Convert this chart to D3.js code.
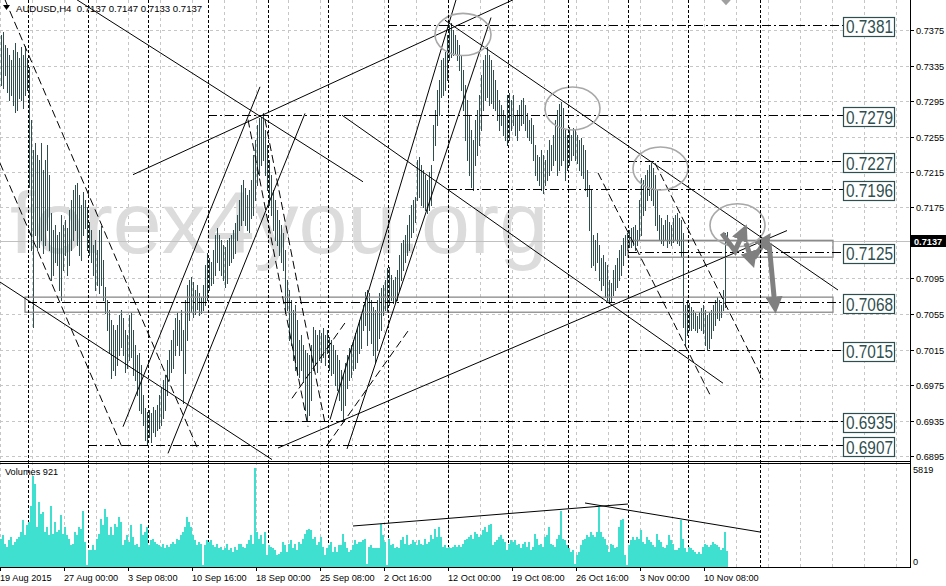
<!DOCTYPE html>
<html><head><meta charset="utf-8">
<script src="https://cdn.jsdelivr.net/npm/d3@7"></script>
<style>
html,body{margin:0;padding:0;background:#fff;overflow:hidden;}
svg{display:block;font-family:"Liberation Sans",Arial,sans-serif;}
</style></head><body>
<svg id="c" width="946" height="586"></svg>
<script>
// ---------------- DATA ----------------
const symbol = "AUDUSD,H4";
const lastOHLC = [0.7137, 0.7147, 0.7133, 0.7137];
const bidPrice = 0.7137;

const highs = [
0.7369,0.7373,0.7358,0.7355,0.7347,0.7341,0.7352,0.7360,0.7350,0.7343,
0.7356,0.7347,0.7357,0.7343,0.7333,0.7274,0.7240,0.7248,0.7234,0.7229,
0.7248,0.7217,0.7229,0.7245,0.7212,0.7169,0.7150,0.7155,0.7144,0.7147,
0.7167,0.7155,0.7161,0.7152,0.7172,0.7183,0.7195,0.7200,0.7203,0.7189,
0.7178,0.7192,0.7183,0.7176,0.7159,0.7150,0.7133,0.7138,0.7127,0.7150,
0.7154,0.7116,0.7085,0.7071,0.7059,0.7048,0.7043,0.7037,0.7043,0.7054,
0.7059,0.7051,0.7037,0.7031,0.7054,0.7056,0.7037,0.7020,0.7009,0.7011,
0.6998,0.6964,0.6949,0.6945,0.6947,0.6943,0.6950,0.6947,0.6952,0.6964,
0.6972,0.6981,0.6986,0.7003,0.7014,0.7026,0.7037,0.7051,0.7056,0.7048,
0.7059,0.7037,0.7071,0.7088,0.7093,0.7097,0.7091,0.7082,0.7088,0.7079,
0.7074,0.7088,0.7110,0.7124,0.7118,0.7114,0.7127,0.7144,0.7152,0.7144,
0.7138,0.7133,0.7130,0.7138,0.7141,0.7144,0.7150,0.7158,0.7167,0.7183,
0.7200,0.7206,0.7197,0.7189,0.7195,0.7206,0.7234,0.7251,0.7268,0.7276,
0.7277,0.7281,0.7262,0.7245,0.7229,0.7212,0.7195,0.7183,0.7172,0.7161,
0.7155,0.7146,0.7127,0.7093,0.7082,0.7071,0.7059,0.7065,0.7048,0.7026,
0.7031,0.7020,0.7014,0.7011,0.7009,0.7020,0.7040,0.7037,0.7031,0.7037,
0.7034,0.7039,0.7031,0.7037,0.7029,0.7026,0.7020,0.7014,0.7009,0.7003,
0.6992,0.6986,0.7000,0.7009,0.7017,0.7020,0.7026,0.7034,0.7039,0.7048,
0.7054,0.7065,0.7080,0.7082,0.7079,0.7071,0.7063,0.7059,0.7071,0.7079,
0.7084,0.7088,0.7093,0.7107,0.7108,0.7099,0.7093,0.7097,0.7105,0.7122,
0.7135,0.7138,0.7144,0.7155,0.7167,0.7178,0.7183,0.7187,0.7229,0.7232,
0.7223,0.7217,0.7212,0.7206,0.7215,0.7223,0.7268,0.7285,0.7307,0.7319,
0.7341,0.7343,0.7350,0.7369,0.7381,0.7383,0.7375,0.7369,0.7364,0.7358,
0.7347,0.7330,0.7313,0.7296,0.7279,0.7262,0.7251,0.7274,0.7285,0.7302,
0.7324,0.7341,0.7347,0.7356,0.7347,0.7341,0.7330,0.7319,0.7307,0.7296,
0.7291,0.7285,0.7279,0.7302,0.7304,0.7296,0.7302,0.7279,0.7285,0.7291,
0.7296,0.7298,0.7291,0.7281,0.7274,0.7276,0.7268,0.7245,0.7234,0.7232,
0.7240,0.7234,0.7229,0.7240,0.7251,0.7245,0.7257,0.7274,0.7285,0.7292,
0.7294,0.7287,0.7262,0.7257,0.7266,0.7257,0.7265,0.7262,0.7257,0.7251,
0.7253,0.7245,0.7240,0.7217,0.7200,0.7195,0.7144,0.7138,0.7146,0.7133,
0.7118,0.7122,0.7114,0.7110,0.7093,0.7090,0.7105,0.7110,0.7118,0.7127,
0.7133,0.7141,0.7144,0.7146,0.7150,0.7152,0.7153,0.7155,0.7150,0.7183,
0.7208,0.7206,0.7212,0.7217,0.7223,0.7225,0.7219,0.7212,0.7195,0.7167,
0.7163,0.7155,0.7161,0.7167,0.7159,0.7155,0.7163,0.7167,0.7169,0.7163,
0.7161,0.7146,0.7065,0.7071,0.7067,0.7063,0.7059,0.7056,0.7053,0.7057,
0.7062,0.7065,0.7059,0.7054,0.7057,0.7059,0.7065,0.7071,0.7074,0.7071,
0.7065,0.7082,0.7146,0.7147];

const lows = [
0.7313,0.7310,0.7324,0.7305,0.7296,0.7302,0.7291,0.7283,0.7285,0.7298,
0.7296,0.7287,0.7302,0.7307,0.7198,0.7127,0.7040,0.7144,0.7127,0.7130,
0.7138,0.7124,0.7133,0.7150,0.7127,0.7093,0.7099,0.7114,0.7110,0.7082,
0.7071,0.7105,0.7122,0.7099,0.7110,0.7127,0.7138,0.7150,0.7133,0.7122,
0.7116,0.7144,0.7152,0.7127,0.7122,0.7114,0.7099,0.7082,0.7088,0.7079,
0.7088,0.7071,0.7056,0.7037,0.7011,0.6983,0.6992,0.6986,0.6998,0.7009,
0.7018,0.7009,0.6990,0.6994,0.7003,0.7007,0.6986,0.6981,0.6964,0.6947,
0.6943,0.6930,0.6913,0.6907,0.6916,0.6911,0.6922,0.6917,0.6924,0.6927,
0.6930,0.6938,0.6947,0.6964,0.6981,0.6990,0.6994,0.7009,0.7020,0.7009,
0.7014,0.6955,0.6988,0.7026,0.7048,0.7057,0.7052,0.7055,0.7061,0.7054,
0.7056,0.7059,0.7065,0.7071,0.7082,0.7088,0.7090,0.7099,0.7114,0.7105,
0.7099,0.7093,0.7085,0.7090,0.7110,0.7114,0.7118,0.7124,0.7138,0.7150,
0.7155,0.7161,0.7155,0.7150,0.7147,0.7163,0.7167,0.7183,0.7200,0.7212,
0.7223,0.7229,0.7212,0.7195,0.7178,0.7167,0.7150,0.7138,0.7133,0.7122,
0.7114,0.7105,0.7056,0.7059,0.7026,0.7020,0.7003,0.6992,0.6986,0.6984,
0.6992,0.6978,0.6947,0.6936,0.6941,0.6958,0.6992,0.6998,0.6990,0.7003,
0.7001,0.7007,0.6998,0.7011,0.6992,0.6986,0.6988,0.6975,0.6969,0.6958,
0.6947,0.6936,0.6952,0.6972,0.6981,0.6984,0.6992,0.6994,0.7001,0.7011,
0.7017,0.7037,0.7043,0.7020,0.7037,0.7022,0.7009,0.7001,0.7014,0.7028,
0.7037,0.7054,0.7059,0.7057,0.7065,0.7071,0.7067,0.7068,0.7071,0.7082,
0.7093,0.7105,0.7114,0.7122,0.7127,0.7142,0.7147,0.7159,0.7183,0.7187,
0.7178,0.7176,0.7172,0.7169,0.7172,0.7178,0.7229,0.7245,0.7268,0.7279,
0.7300,0.7302,0.7307,0.7319,0.7341,0.7345,0.7347,0.7349,0.7341,0.7330,
0.7307,0.7285,0.7251,0.7229,0.7212,0.7198,0.7195,0.7223,0.7234,0.7245,
0.7262,0.7285,0.7296,0.7300,0.7291,0.7293,0.7287,0.7285,0.7274,0.7262,
0.7268,0.7257,0.7251,0.7245,0.7251,0.7262,0.7268,0.7257,0.7251,0.7262,
0.7268,0.7270,0.7262,0.7254,0.7251,0.7248,0.7229,0.7212,0.7206,0.7200,
0.7195,0.7191,0.7200,0.7206,0.7212,0.7217,0.7223,0.7229,0.7212,0.7217,
0.7223,0.7229,0.7206,0.7217,0.7223,0.7229,0.7234,0.7229,0.7225,0.7217,
0.7212,0.7208,0.7195,0.7188,0.7150,0.7108,0.7110,0.7105,0.7114,0.7093,
0.7082,0.7088,0.7074,0.7071,0.7067,0.7068,0.7076,0.7082,0.7085,0.7093,
0.7099,0.7110,0.7122,0.7127,0.7130,0.7131,0.7133,0.7127,0.7133,0.7138,
0.7144,0.7167,0.7172,0.7183,0.7189,0.7183,0.7178,0.7155,0.7150,0.7138,
0.7135,0.7133,0.7138,0.7131,0.7135,0.7133,0.7136,0.7138,0.7135,0.7133,
0.7120,0.7040,0.7020,0.7031,0.7037,0.7037,0.7039,0.7037,0.7035,0.7039,
0.7037,0.7034,0.7020,0.7014,0.7017,0.7028,0.7037,0.7043,0.7051,0.7048,
0.7052,0.7059,0.7063,0.7133];

const volumes = [
1670,1860,1380,1180,1570,1770,1280,1470,1670,1770,
2060,2740,1860,2450,2640,3610,5350,4870,2350,3800,
3120,3220,2060,2350,1860,3610,1960,2640,2060,2150,
3030,1960,2350,1860,1670,1280,1380,2060,1860,2350,
2250,3320,1470,110,990,990,1280,990,1670,1960,
2830,2450,3410,2930,1860,2350,1860,2540,2350,2930,
2640,1280,1570,1860,1470,2450,1770,1280,1380,1180,
2540,1860,2060,2350,1280,1570,1670,1470,1380,1280,
1180,1380,1090,1280,1180,1380,1470,1380,1670,1570,
1860,2060,2350,2930,2640,2350,1860,1570,1280,1470,
1380,130,1280,1570,1470,1570,1280,1180,1380,1090,
1180,990,1090,1380,990,1090,890,1180,990,1380,
1380,1180,1090,1380,1570,1860,1380,5819,2060,1670,
1860,1380,2060,700,1280,1180,1090,990,700,790,
890,1470,1280,890,1380,1570,1090,1380,990,1470,
1380,1670,1960,2150,2250,2150,1670,1770,1280,1470,
1770,1180,700,1090,1280,1470,890,1180,890,1280,
1280,1960,1470,1090,890,990,1280,1570,1380,1470,
1470,1570,1670,200,1180,1280,1090,1090,1090,1090,
2540,1860,1470,100,1670,1280,1380,1090,1180,1090,
1570,1770,1380,1860,1280,1380,1570,1470,1280,1570,
1380,1280,1670,1380,1470,1860,1670,2250,1770,2350,
1770,1180,1280,1090,1180,1090,1180,1280,1180,1280,
1180,1380,1570,1670,1770,1860,1670,2060,1960,1770,
1860,2150,2350,2060,2450,2540,1280,1470,1570,1770,
1860,1670,1470,990,1380,1570,1470,1570,1280,1380,
1090,1380,1470,1180,1470,990,1180,1960,1670,1280,
1380,1180,1770,1860,2350,1380,1280,1180,1670,1860,
3320,1670,1570,1280,1090,890,990,150,700,890,
1280,1570,1670,1860,1770,2060,1860,1770,2060,3510,
2060,1770,1670,1280,890,1380,1280,1090,1180,2350,
2740,2830,700,120,1280,1570,1770,1570,1770,1670,
2150,1470,1380,1770,1570,1470,1280,1180,1960,1570,
1470,1180,1090,1280,1860,1570,1380,990,990,1090,
2740,1670,1090,890,1180,1090,990,890,790,890,
790,1180,1380,1280,1180,1280,1470,1380,1280,1180,
990,1090,2060,921];

const volMax = 5819;
const priceTicks = [0.7375,0.7335,0.7295,0.7255,0.7215,0.7175,0.7095,0.7055,0.7015,0.6975,0.6935,0.6895];
const timeLabels = ["19 Aug 2015","27 Aug 00:00","3 Sep 08:00","10 Sep 16:00","18 Sep 00:00","25 Sep 08:00","2 Oct 16:00","12 Oct 00:00","19 Oct 08:00","26 Oct 16:00","3 Nov 00:00","10 Nov 08:00"];
const timeLabelBars = [0,32,64,96,128,160,192,224,256,288,320,352];
const weekSeparators = [13.5,43.5,73.5,103.5,133.5,163.5,193.5,223.5,253.5,283.5,313.5,343.5,379.5];

const levels      = [0.7381,0.7279,0.7227,0.7196,0.7125,0.7068,0.7015,0.6935,0.6907];
const levelStarts = [193.5, 103.5, 313.5, 223.5, 313.5, 13.5, 313.5, 133.5, 43.5];

// zones: [barFrom, barTo, priceTop, priceBottom]
const zones = [[12,416,0.7074,0.7057],[313.5,416,0.7138,0.7119]];

// trend lines: [bar1, price1, bar2, price2]
const solidLines = [
 [38,0.7409,181,0.7204],
 [66,0.7212,256,0.7409],
 [-0.5,0.7091,135.5,0.6891],
 [138.5,0.6904,393,0.7149],
 [170.5,0.7279,361,0.6977],
 [222,0.7386,418.5,0.7082],
 [61,0.6928,129.5,0.7311],
 [83.5,0.6898,152,0.7281],
 [164.5,0.6936,227.5,0.7409],
 [173,0.6903,245,0.7389]
];
const dashedLines = [
 [2,0.7409,98,0.6905],
 [-0.5,0.7225,60.5,0.6905],
 [123.5,0.7274,153.5,0.6928],
 [132,0.7274,162,0.6932],
 [163,0.6907,204.5,0.7039],
 [145.5,0.6960,172,0.7045],
 [298.5,0.7214,354.5,0.6964],
 [327,0.7225,381,0.6981]
];
// ellipses: [barCenter, priceCenter, barHalfWidth, priceHalfHeight]
const ellipses = [
 [231,0.7370,14,0.00237],
 [285.75,0.72865,13.75,0.00242],
 [329.75,0.7219,13.75,0.00242],
 [368.25,0.7155,13.75,0.00242]
];
// forecast arrows: lists of [bar, price]
const arrows = [
 [[360.5,0.7146],[367,0.7126],[371.5,0.7149]],
 [[372.5,0.7135],[375.5,0.7114]],
 [[376.5,0.7118],[383,0.7140]],
 [[384,0.7135],[387,0.7063]]
];
const topMarker = [[360,0.7409],[365,0.7409],[362.5,0.7403]];
// volume trend lines: [bar1, vol1, bar2, vol2]
const volLines = [[176,2410,313.5,3703],[292,3762,379.5,2057]];

// ---------------- LAYOUT ----------------
const svg = d3.select("#c");
const plotRight = 910, mainBottom = 461, volTop = 463, volBottom = 567;
const labelBar = 421;

const x = d3.scaleLinear().domain([0, 363]).range([1, 727]);
const y = d3.scaleLinear().domain([0.6895, 0.7375]).range([456, 30]);
const yv = d3.scaleLinear().domain([0, volMax]).range([volBottom, 468]);
const fmt = d3.format(".4f");
const slate = "#2F4F4F";
const crisp = v => Math.round(v) + 0.5;

const defs = svg.append("defs");
defs.append("clipPath").attr("id","mainClip").append("rect").attr("x",0).attr("y",0).attr("width",plotRight).attr("height",mainBottom);
defs.append("clipPath").attr("id","volClip").append("rect").attr("x",0).attr("y",volTop).attr("width",plotRight).attr("height",volBottom-volTop);
defs.append("marker").attr("id","ah").attr("markerUnits","userSpaceOnUse")
  .attr("viewBox","0 0 10 10").attr("refX",6).attr("refY",5)
  .attr("markerWidth",17).attr("markerHeight",17).attr("orient","auto")
  .append("path").attr("d","M0,0 L10,5 L0,10 z").attr("fill","#808080");

// grid
const grid = svg.append("g").attr("stroke","#c6c6c6").attr("stroke-dasharray","3,3").attr("shape-rendering","crispEdges");
d3.range(0, 29).forEach(k => {
  const px = crisp(x(16*k - 0.5));
  grid.append("line").attr("x1",px).attr("x2",px).attr("y1",0).attr("y2",volBottom);
});
priceTicks.forEach(t => {
  const py = crisp(y(t));
  grid.append("line").attr("x1",0).attr("x2",plotRight).attr("y1",py).attr("y2",py);
});

// main panel
const main = svg.append("g").attr("clip-path","url(#mainClip)");
main.append("text").attr("x",10).attr("y",253).attr("font-size",88).attr("fill","#dcdcdc").text("forex4you.org");

// week separators (both panels)
const sep = svg.append("g").attr("stroke","#000").attr("stroke-dasharray","3,2").attr("shape-rendering","crispEdges");
weekSeparators.forEach(b => {
  const px = crisp(x(b));
  sep.append("line").attr("x1",px).attr("x2",px).attr("y1",0).attr("y2",volBottom);
});

// bid line
main.append("line").attr("x1",0).attr("x2",plotRight).attr("y1",crisp(y(bidPrice))).attr("y2",crisp(y(bidPrice)))
  .attr("stroke","#c0c0c0").attr("shape-rendering","crispEdges");

// price bars
let d = "";
highs.forEach((h,i) => { d += `M${crisp(x(i))},${Math.round(y(h))}V${Math.round(y(lows[i]))+1}`; });
main.append("path").attr("d",d).attr("stroke",slate).attr("stroke-width",1).attr("fill","none").attr("shape-rendering","crispEdges");

// zones
zones.forEach(z => {
  main.append("rect").attr("x",x(z[0])).attr("y",y(z[2])).attr("width",x(z[1])-x(z[0])).attr("height",y(z[3])-y(z[2]))
    .attr("fill","none").attr("stroke","#8a8a8a").attr("stroke-width",1.3);
});

// level lines
levels.forEach((l,i) => {
  const py = crisp(y(l));
  main.append("line").attr("x1",x(levelStarts[i])).attr("x2",x(labelBar)).attr("y1",py).attr("y2",py)
    .attr("stroke","#000").attr("stroke-dasharray","9,3,2,3").attr("shape-rendering","crispEdges");
});

// trend lines
solidLines.forEach(l => {
  main.append("line").attr("x1",x(l[0])).attr("y1",y(l[1])).attr("x2",x(l[2])).attr("y2",y(l[3])).attr("stroke","#000").attr("stroke-width",1);
});
dashedLines.forEach(l => {
  main.append("line").attr("x1",x(l[0])).attr("y1",y(l[1])).attr("x2",x(l[2])).attr("y2",y(l[3])).attr("stroke","#000").attr("stroke-width",1).attr("stroke-dasharray","8,4");
});

// ellipses
ellipses.forEach(e => {
  main.append("ellipse").attr("cx",x(e[0])).attr("cy",y(e[1]))
    .attr("rx",x(e[0]+e[2])-x(e[0])).attr("ry",y(e[1]-e[3])-y(e[1]))
    .attr("fill","none").attr("stroke","#a8a8a8").attr("stroke-width",1.6);
});

// arrows
const lineGen = d3.line().x(p => x(p[0])).y(p => y(p[1]));
arrows.forEach(a => {
  main.append("path").attr("d",lineGen(a)).attr("fill","none").attr("stroke","#808080").attr("stroke-width",5)
    .attr("stroke-linejoin","miter").attr("marker-end","url(#ah)");
});
main.append("path").attr("d",lineGen(topMarker)+"Z").attr("fill","#a0a0a0");

// level labels
levels.forEach(l => {
  const py = y(l);
  svg.append("rect").attr("x",x(labelBar)+0.5).attr("y",Math.round(py-8)+0.5).attr("width",51).attr("height",19)
    .attr("fill","#fff").attr("stroke",slate).attr("stroke-width",1.2);
  svg.append("text").attr("x",x(labelBar)+3).attr("y",py+8.5).attr("font-size",17.5).attr("fill",slate)
    .attr("textLength",47).attr("lengthAdjust","spacingAndGlyphs").text(fmt(l));
});

// volume panel
const vol = svg.append("g").attr("clip-path","url(#volClip)");
vol.selectAll("rect").data(volumes).join("rect")
  .attr("x",(v,i) => x(i)-1).attr("width",2)
  .attr("y",v => yv(v)).attr("height",v => volBottom - yv(v))
  .attr("fill","#40E0D0").attr("shape-rendering","crispEdges");
volLines.forEach(l => {
  vol.append("line").attr("x1",x(l[0])).attr("y1",yv(l[1])).attr("x2",x(l[2])).attr("y2",yv(l[3])).attr("stroke","#000");
});

// frames
const fr = svg.append("g").attr("stroke","#000").attr("shape-rendering","crispEdges");
fr.append("line").attr("x1",0).attr("x2",plotRight+0.5).attr("y1",mainBottom+0.5).attr("y2",mainBottom+0.5);
fr.append("line").attr("x1",0).attr("x2",plotRight+0.5).attr("y1",volTop+0.5).attr("y2",volTop+0.5);
fr.append("line").attr("x1",0).attr("x2",plotRight+0.5).attr("y1",volBottom+0.5).attr("y2",volBottom+0.5);
fr.append("line").attr("x1",plotRight+0.5).attr("x2",plotRight+0.5).attr("y1",0).attr("y2",volBottom+0.5);

// price axis
const axisFont = 9.2;
priceTicks.forEach(t => {
  const py = crisp(y(t));
  fr.append("line").attr("x1",plotRight).attr("x2",plotRight+4).attr("y1",py).attr("y2",py);
  svg.append("text").attr("x",916).attr("y",py+3.3).attr("font-size",axisFont).attr("fill","#000").text(fmt(t));
});
// current price tag
const by = y(bidPrice);
svg.append("rect").attr("x",911).attr("y",Math.round(by-6)).attr("width",35).attr("height",12).attr("fill","#000");
svg.append("text").attr("x",914).attr("y",by+3.5).attr("font-size",axisFont).attr("font-weight","bold").attr("fill","#fff").text(fmt(bidPrice));

// volume axis
[[volMax, yv(volMax)+5],[0, yv(0)-2]].forEach(([v,py]) => {
  svg.append("text").attr("x",913).attr("y",py).attr("font-size",axisFont).attr("fill","#000").text(v);
});

// time axis
timeLabels.forEach((lab,i) => {
  const px = Math.round(x(timeLabelBars[i])) - 1;
  fr.append("line").attr("x1",px+0.5).attr("x2",px+0.5).attr("y1",volBottom).attr("y2",volBottom+4);
  svg.append("text").attr("x",px).attr("y",581).attr("font-size",axisFont).attr("fill","#000").text(lab);
});

// title
svg.append("path").attr("d","M3,5 L10,5 L6.5,10 Z").attr("fill","#000");
svg.append("text").attr("x",16).attr("y",11.5).attr("font-size",9.6).attr("fill","#000").style("white-space","pre")
  .text(`${symbol}  ${lastOHLC.map(fmt).join(" ")}`);
svg.append("text").attr("x",5).attr("y",475).attr("font-size",axisFont).attr("fill","#000")
  .text(`Volumes ${volumes[volumes.length-1]}`);
</script>
</body></html>
